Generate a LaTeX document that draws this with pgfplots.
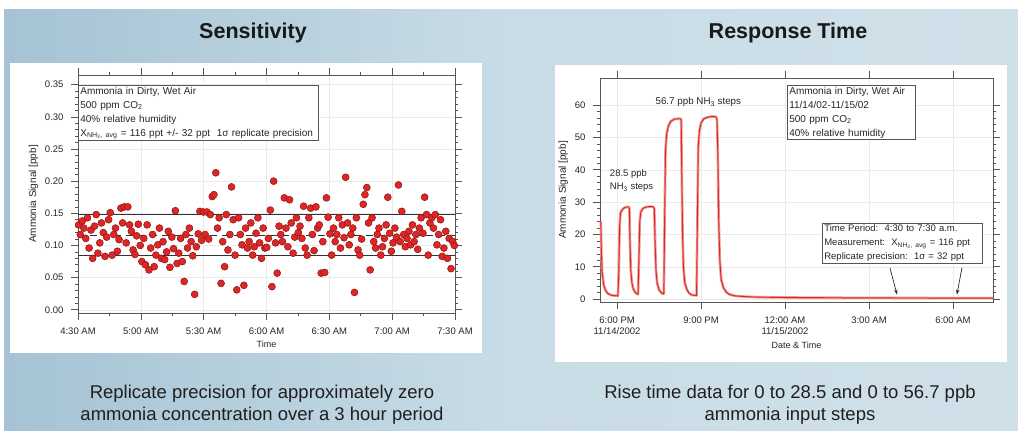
\documentclass[border=0pt]{standalone}
\usepackage{fontspec}
\setmainfont{Liberation Sans}
\usepackage{pgfplots}
\pgfplotsset{compat=1.18}
\usetikzlibrary{arrows.meta}

\definecolor{bgL}{RGB}{165,195,212}
\definecolor{bgM}{RGB}{200,220,230}
\definecolor{bgR}{RGB}{208,224,233}
\definecolor{dotred}{RGB}{222,38,38}
\definecolor{dotedge}{RGB}{140,20,20}
\definecolor{framegray}{RGB}{85,85,85}
\definecolor{halo}{RGB}{245,150,140}
\definecolor{core}{RGB}{205,45,45}

\pgfplotsset{
  igor/.style={
    scale only axis,
    tick align=outside, tick pos=both,
    major tick length=7pt, minor tick length=3pt,
    axis line style={framegray, line width=0.9pt},
    every tick/.style={framegray, line width=0.6pt},
    grid=major, major grid style={black!8, line width=0.4pt},
    ticklabel style={font=\fontsize{9.5}{11}\selectfont, text=black!85},
    xticklabel style={yshift=-4pt},
    yticklabel style={xshift=-4pt},
    xlabel style={font=\fontsize{9}{10}\selectfont, text=black!85},
    ylabel style={font=\fontsize{10}{11}\selectfont, text=black!85},
    /pgf/number format/assume math mode=true,
    clip=false,
  },
}
\tikzset{
  inset/.style={draw=framegray, line width=0.7pt, fill=white, inner xsep=2pt, inner ysep=1.5pt,
    align=left, font=\fontsize{10}{14}\selectfont, text=black!85},
}

\begin{document}
\begin{tikzpicture}
% slide background
\path[use as bounding box] (0pt,0pt) rectangle (1018pt,431pt);
\fill[white] (0pt,0pt) rectangle (1018pt,431pt);
\shade[left color=bgL, right color=bgR, middle color=bgM] (4pt,0pt) rectangle (1018pt,421pt);
% white panels
\fill[white] (10pt,78pt) rectangle (482pt,368pt);
\fill[white] (555pt,69pt) rectangle (1007pt,366pt);

% ---------------- Sensitivity ----------------
\begin{axis}[igor,
  at={(78pt,118pt)}, anchor=south west, width=377pt, height=238pt,
  xmin=0, xmax=180, ymin=-0.005, ymax=0.365,
  xtick={0,30,60,90,120,150,180},
  xticklabels={4:30 AM,5:00 AM,5:30 AM,6:00 AM,6:30 AM,7:00 AM,7:30 AM},
  minor x tick num=1,
  ytick={0,0.05,0.10,0.15,0.20,0.25,0.30,0.35},
  yticklabels={0.00,0.05,0.10,0.15,0.20,0.25,0.30,0.35},
  minor y tick num=4,
  xlabel={Time}, ylabel={Ammonia Signal [ppb]},
]
\addplot[only marks, mark=*, mark size=3.5pt,
  mark options={fill=dotred, draw=dotedge, line width=0.5pt}] coordinates {
(0.3,0.132) (1.1,0.117) (2.0,0.138) (2.8,0.127) (3.7,0.111) (4.5,0.143) (5.3,0.096) (6.2,0.124) (7.0,0.080)
(7.9,0.130) (8.7,0.148) (9.5,0.088) (10.4,0.104) (11.2,0.135) (12.1,0.120) (12.9,0.083) (13.7,0.113) (14.6,0.140)
(15.4,0.151) (16.3,0.085) (17.1,0.117) (17.9,0.127) (18.8,0.091) (19.6,0.109) (20.5,0.158) (21.3,0.135) (22.1,0.160)
(23.0,0.104) (23.8,0.160) (24.6,0.132) (25.5,0.122) (26.3,0.093) (27.2,0.086) (28.0,0.115) (28.8,0.133) (29.7,0.100)
(30.5,0.075) (31.4,0.111) (32.2,0.070) (33.0,0.132) (33.9,0.062) (34.7,0.096) (35.6,0.117) (36.4,0.067) (37.2,0.085)
(38.1,0.101) (38.9,0.127) (39.8,0.080) (40.6,0.106) (41.4,0.078) (42.3,0.090) (43.1,0.122) (43.9,0.066) (44.8,0.113)
(45.6,0.095) (46.5,0.154) (47.3,0.072) (48.1,0.088) (49.0,0.111) (49.8,0.075) (50.7,0.044) (51.5,0.117) (52.3,0.096)
(53.2,0.127) (54.0,0.106) (54.8,0.084) (55.7,0.024) (56.5,0.098) (57.4,0.118) (58.2,0.153) (59.0,0.108) (59.9,0.152)
(60.7,0.117) (61.6,0.152) (62.4,0.110) (63.2,0.148) (64.1,0.176) (64.9,0.179) (65.8,0.213) (66.6,0.127) (67.4,0.143)
(68.3,0.041) (69.1,0.106) (70.0,0.067) (70.8,0.148) (71.6,0.093) (72.5,0.117) (73.3,0.191) (74.1,0.140) (75.0,0.085)
(75.8,0.031) (76.7,0.143) (77.5,0.117) (78.3,0.101) (79.2,0.038) (80.0,0.127) (80.9,0.096) (81.7,0.106) (82.5,0.135)
(83.4,0.085) (84.2,0.098) (85.0,0.119) (85.9,0.143) (86.7,0.104) (87.6,0.080) (88.4,0.127) (89.2,0.096) (90.1,0.097)
(90.9,0.111) (91.8,0.155) (92.6,0.036) (93.4,0.200) (94.3,0.104) (95.1,0.057) (96.0,0.130) (96.8,0.117) (97.6,0.106)
(98.5,0.174) (99.3,0.127) (100.2,0.098) (101.0,0.171) (101.8,0.135) (102.7,0.088) (103.5,0.113) (104.3,0.143) (105.2,0.120)
(106.0,0.130) (106.9,0.111) (107.7,0.161) (108.5,0.096) (109.4,0.085) (110.2,0.143) (111.1,0.158) (111.9,0.117) (112.7,0.092)
(113.6,0.160) (114.4,0.127) (115.2,0.132) (116.1,0.057) (116.9,0.106) (117.8,0.058) (118.6,0.174) (119.4,0.144) (120.3,0.118)
(121.1,0.085) (122.0,0.127) (122.8,0.106) (123.6,0.117) (124.5,0.143) (125.3,0.096) (126.2,0.132) (127.0,0.112) (127.8,0.206)
(128.7,0.135) (129.5,0.101) (130.3,0.117) (131.2,0.127) (132.0,0.027) (132.9,0.143) (133.7,0.093) (134.5,0.085) (135.4,0.110)
(136.2,0.164) (137.0,0.179) (137.9,0.190) (138.7,0.135) (139.5,0.062) (140.4,0.143) (141.2,0.106) (142.1,0.096) (142.9,0.117)
(143.7,0.127) (144.6,0.085) (145.4,0.098) (146.3,0.111) (147.1,0.132) (147.9,0.175) (148.8,0.119) (149.6,0.091) (150.4,0.104)
(151.3,0.127) (152.1,0.113) (153.0,0.194) (153.8,0.106) (154.6,0.153) (155.5,0.117) (156.3,0.098) (157.1,0.111) (158.0,0.122)
(158.8,0.101) (159.7,0.132) (160.5,0.106) (161.3,0.117) (162.2,0.094) (163.0,0.127) (163.8,0.143) (164.7,0.119) (165.5,0.175)
(166.4,0.148) (167.2,0.085) (168.0,0.135) (168.9,0.143) (169.7,0.127) (170.6,0.148) (171.4,0.101) (172.2,0.117) (173.1,0.140)
(173.9,0.083) (174.7,0.096) (175.6,0.122) (176.4,0.080) (177.2,0.111) (178.1,0.064) (178.9,0.106) (179.7,0.100)
};
\addplot[black!80, line width=1.3pt] coordinates {(0,0.148) (180,0.148)};
\addplot[black!80, line width=1.3pt] coordinates {(0,0.084) (180,0.084)};
\addplot[black!80, line width=1pt, dash pattern=on 7pt off 5pt] coordinates {(0,0.116) (180,0.116)};
\node[inset, anchor=north west, text width=236pt] at (rel axis cs:0,0.958)
  {Ammonia in Dirty, Wet Air\\500 ppm CO\textsubscript{2}\\40\% relative humidity\\
   X\textsubscript{NH\textsubscript{3}, avg} = 116 ppt +/- 32 ppt\ \ 1σ replicate precision};
\end{axis}

% ---------------- Response Time ----------------
\begin{axis}[igor,
  at={(600pt,129pt)}, anchor=south west, width=393pt, height=224pt,
  xmin=17.39, xmax=31.43, ymin=-0.9, ymax=68.4,
  xtick={18,21,24,27,30},
  xticklabels={{6:00 PM\\11/14/2002},9:00 PM,{12:00 AM\\11/15/2002},3:00 AM,6:00 AM},
  xticklabel style={align=center, font=\fontsize{9.5}{11.5}\selectfont},
  ytick={0,10,20,30,40,50,60},
  minor y tick num=4,
  xlabel={Date \& Time}, ylabel={Ammonia Signal [ppb]},
]
\addplot[halo, line width=2.6pt, line join=round] table[row sep=\\] {
x y \\
17.42 24.0 \\ 17.44 14 \\ 17.47 8 \\ 17.52 4.5 \\ 17.58 2.8 \\ 17.66 1.8 \\ 17.76 1.3 \\ 17.86 1.1 \\ 18.03 1.0 \\
18.06 8 \\ 18.09 22 \\ 18.12 26.5 \\ 18.17 27.5 \\ 18.25 28.2 \\ 18.35 28.5 \\ 18.42 28.5 \\
18.44 28 \\ 18.46 18 \\ 18.49 9 \\ 18.53 5 \\ 18.58 3.2 \\ 18.65 2 \\ 18.72 1.6 \\
18.75 1.5 \\ 18.78 12 \\ 18.81 24 \\ 18.85 27 \\ 18.92 28 \\ 19.00 28.4 \\ 19.15 28.6 \\ 19.28 28.6 \\
19.33 28.0 \\ 19.36 17 \\ 19.39 9 \\ 19.43 5 \\ 19.50 2.8 \\ 19.60 1.8 \\ 19.66 1.6 \\
19.67 1.6 \\ 19.70 25 \\ 19.73 46 \\ 19.77 51 \\ 19.83 53.5 \\ 19.92 55 \\ 20.05 55.7 \\ 20.18 55.8 \\ 20.26 55.8 \\
20.29 55.5 \\ 20.31 40 \\ 20.34 20 \\ 20.37 10 \\ 20.42 5 \\ 20.50 2.8 \\ 20.58 1.8 \\ 20.66 1.3 \\
20.84 1.1 \\ 20.87 25 \\ 20.90 47 \\ 20.94 52 \\ 21.00 54.5 \\ 21.10 55.8 \\ 21.25 56.3 \\ 21.40 56.5 \\ 21.53 56.4 \\
21.57 55.5 \\ 21.60 45 \\ 21.63 25 \\ 21.67 12 \\ 21.72 6 \\ 21.80 3.5 \\ 21.90 2.2 \\ 22.00 1.5 \\ 22.20 1.0 \\
22.50 0.8 \\ 23.00 0.6 \\ 24.00 0.5 \\ 26.00 0.4 \\ 28.00 0.35 \\ 30.00 0.3 \\ 31.43 0.3 \\
};
\addplot[core, line width=0.9pt, line join=round] table[row sep=\\] {
x y \\
17.42 24.0 \\ 17.44 14 \\ 17.47 8 \\ 17.52 4.5 \\ 17.58 2.8 \\ 17.66 1.8 \\ 17.76 1.3 \\ 17.86 1.1 \\ 18.03 1.0 \\
18.06 8 \\ 18.09 22 \\ 18.12 26.5 \\ 18.17 27.5 \\ 18.25 28.2 \\ 18.35 28.5 \\ 18.42 28.5 \\
18.44 28 \\ 18.46 18 \\ 18.49 9 \\ 18.53 5 \\ 18.58 3.2 \\ 18.65 2 \\ 18.72 1.6 \\
18.75 1.5 \\ 18.78 12 \\ 18.81 24 \\ 18.85 27 \\ 18.92 28 \\ 19.00 28.4 \\ 19.15 28.6 \\ 19.28 28.6 \\
19.33 28.0 \\ 19.36 17 \\ 19.39 9 \\ 19.43 5 \\ 19.50 2.8 \\ 19.60 1.8 \\ 19.66 1.6 \\
19.67 1.6 \\ 19.70 25 \\ 19.73 46 \\ 19.77 51 \\ 19.83 53.5 \\ 19.92 55 \\ 20.05 55.7 \\ 20.18 55.8 \\ 20.26 55.8 \\
20.29 55.5 \\ 20.31 40 \\ 20.34 20 \\ 20.37 10 \\ 20.42 5 \\ 20.50 2.8 \\ 20.58 1.8 \\ 20.66 1.3 \\
20.84 1.1 \\ 20.87 25 \\ 20.90 47 \\ 20.94 52 \\ 21.00 54.5 \\ 21.10 55.8 \\ 21.25 56.3 \\ 21.40 56.5 \\ 21.53 56.4 \\
21.57 55.5 \\ 21.60 45 \\ 21.63 25 \\ 21.67 12 \\ 21.72 6 \\ 21.80 3.5 \\ 21.90 2.2 \\ 22.00 1.5 \\ 22.20 1.0 \\
22.50 0.8 \\ 23.00 0.6 \\ 24.00 0.5 \\ 26.00 0.4 \\ 28.00 0.35 \\ 30.00 0.3 \\ 31.43 0.3 \\
};
\node[anchor=west, font=\fontsize{9.8}{11}\selectfont, text=black!85] at (axis cs:19.25,60.9)
  {56.7 ppb NH\textsubscript{3} steps};
\node[anchor=north west, align=left, font=\fontsize{9.5}{13}\selectfont, text=black!85] at (axis cs:17.62,41)
  {28.5 ppb\\NH\textsubscript{3} steps};
\node[inset, anchor=north west, text width=124pt] at (axis cs:24.07,66.2)
  {Ammonia in Dirty, Wet Air\\11/14/02-11/15/02\\500 ppm CO\textsubscript{2}\\40\% relative humidity};
\node[inset, anchor=north west, text width=156pt, font=\fontsize{9.5}{14}\selectfont] at (axis cs:25.32,23.5)
  {Time Period:\ \ 4:30 to 7:30 a.m.\\Measurement:\ \ X\textsubscript{NH\textsubscript{3}, avg} = 116 ppt\\Replicate precision:\ \ 1σ = 32 ppt};
\draw[-{Stealth[length=5pt,width=3.5pt]}, black!85, line width=0.7pt] (axis cs:27.75,9.6) -- (axis cs:28.0,1.4);
\draw[-{Stealth[length=5pt,width=3.5pt]}, black!85, line width=0.7pt] (axis cs:30.32,9.6) -- (axis cs:30.14,1.4);
\end{axis}

% titles and captions
\node[font=\bfseries\fontsize{21.5}{24}\selectfont, text=black!90] at (253pt,398pt) {Sensitivity};
\node[font=\bfseries\fontsize{21.5}{24}\selectfont, text=black!90] at (788pt,398pt) {Response Time};
\node[font=\fontsize{18.5}{22}\selectfont, align=center, text=black!88] at (262pt,26pt)
  {Replicate precision for approximately zero\\ammonia concentration over a 3 hour period};
\node[font=\fontsize{18.5}{22}\selectfont, align=center, text=black!88] at (790pt,26pt)
  {Rise time data for 0 to 28.5 and 0 to 56.7 ppb\\ammonia input steps};
\end{tikzpicture}
\end{document}
